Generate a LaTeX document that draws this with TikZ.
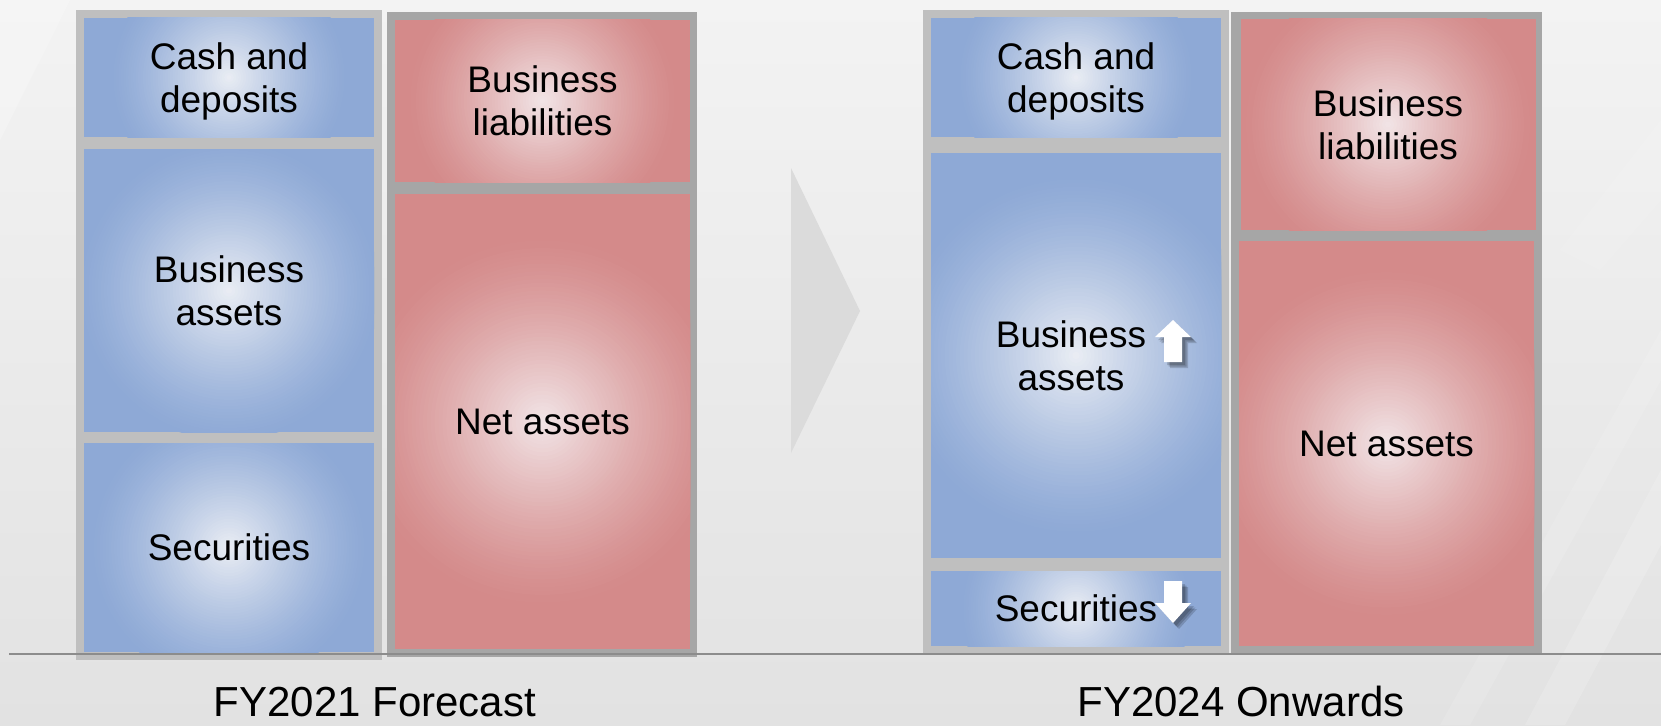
\documentclass[tikz,border=0pt]{standalone}
\usepackage{fontspec}
\setmainfont{Liberation Sans}
\definecolor{bgtop}{HTML}{F3F3F3}
\definecolor{bgbot}{HTML}{E2E2E2}
\definecolor{boxblue}{HTML}{8EA9D6}
\definecolor{blueglow}{HTML}{EBEEF4}
\definecolor{boxred}{HTML}{D48A8A}
\definecolor{redglow}{HTML}{F2E6E8}
\definecolor{frameblue}{HTML}{BFBFBF}
\definecolor{framered}{HTML}{A6A6A6}
\definecolor{chevgray}{HTML}{DBDBDB}
\definecolor{rulegray}{HTML}{8C8C8C}
\begin{document}
\begin{tikzpicture}[x=1pt,y=-1pt]
\tikzset{
  cell/.style={rectangle, inner sep=0pt, align=center, text=black, text depth=0pt,
    font=\fontsize{37}{43}\selectfont},
  % soft highlight in the middle of a cell: #1 = base colour, #2 = highlight colour, #3 = radius
  glow/.style n args={3}{fill=#1,
    path picture={
      \foreach \k in {0,...,47} {
        \pgfmathsetmacro\rr{#3*(1-\k/48)}
        \pgfmathsetmacro\pp{100*(\k/48)^1.3}
        \fill[#2!\pp!#1] (path picture bounding box.center) circle (\rr pt);
      }}},
  bluecell/.style={cell, glow={boxblue}{blueglow}{#1}},
  redcell/.style={cell, glow={boxred}{redglow}{#1}},
  framebox/.style={rectangle, inner sep=0pt, fill=#1},
  caption/.style={anchor=base, inner sep=0pt, font=\fontsize{42}{50}\selectfont},
  uparr/.pic={
    \foreach \d in {3,4.5,6}
      \fill[black, opacity=.16, shift={(\d,\d)}]
        (0,0) -- (18,17) -- (9,17) -- (9,42) -- (-9,42) -- (-9,17) -- (-18,17) -- cycle;
    \fill[white] (0,0) -- (18,17) -- (9,17) -- (9,42) -- (-9,42) -- (-9,17) -- (-18,17) -- cycle;
  },
  downarr/.pic={
    \foreach \d in {3,4.5,6}
      \fill[black, opacity=.16, shift={(\d,\d)}]
        (0,0) -- (18,-20) -- (9,-20) -- (9,-42) -- (-9,-42) -- (-9,-20) -- (-18,-20) -- cycle;
    \fill[white] (0,0) -- (18,-20) -- (9,-20) -- (9,-42) -- (-9,-42) -- (-9,-20) -- (-18,-20) -- cycle;
  }
}
% canvas
\useasboundingbox (0,0) rectangle (1661,725);
\fill[top color=bgtop, bottom color=bgbot] (0,0) rectangle (1661,725);
% soft diagonal light bands
\fill[white, opacity=.22] (0,0) -- (70,0) -- (0,140) -- cycle;
\fill[white, opacity=.16] (1525,725) -- (1661,470) -- (1661,545) -- (1565,725) -- cycle;
\fill[white, opacity=.12] (1440,725) -- (1661,330) -- (1661,380) -- (1470,725) -- cycle;
\fill[white, opacity=.10] (1560,250) -- (1661,120) -- (1661,200) -- (1600,270) -- cycle;

% ---- FY2021 balance sheet ----
\node[framebox=frameblue, minimum width=306pt, minimum height=650pt] (frameAL) at (229,335) {};
\node[bluecell=118, minimum width=290pt, minimum height=119pt] (cashL) at (229,77.5) {Cash and\\deposits};
\node[bluecell=150, minimum width=290pt, minimum height=283pt] (bizL) at (229,290.5) {Business\\assets};
\node[bluecell=138, minimum width=290pt, minimum height=209pt] (secL) at (229,547.5) {Securities};
\node[framebox=framered, minimum width=310pt, minimum height=645pt] (frameBL) at (542,334.5) {};
\node[redcell=135, minimum width=295pt, minimum height=162pt] (liabL) at (542.5,101) {Business\\liabilities};
\node[redcell=185, minimum width=295pt, minimum height=455pt] (netL) at (542.5,421.5) {Net assets};

% transition chevron
\fill[chevgray] (791,168) -- (860,311) -- (791,453) -- cycle;

% ---- FY2024 balance sheet ----
\node[framebox=frameblue, minimum width=306pt, minimum height=643pt] (frameAR) at (1076,331.5) {};
\node[bluecell=118, minimum width=290pt, minimum height=119pt] (cashR) at (1076,77.5) {Cash and\\deposits};
\node[bluecell=180, minimum width=290pt, minimum height=405pt] (bizR) at (1076,355.5) {Business\hspace*{10pt}\\assets\hspace*{10pt}};
\node[bluecell=115, minimum width=290pt, minimum height=75pt] (secR) at (1076,608.5) {Securities};
\node[framebox=framered, minimum width=311pt, minimum height=641pt] (frameBR) at (1386.5,332.5) {};
\node[redcell=145, minimum width=295pt, minimum height=211pt] (liabR) at (1388,124.5) {Business\\liabilities};
\node[redcell=175, minimum width=295pt, minimum height=405pt] (netR) at (1386.5,443.5) {Net assets};

% change markers
\pic at (1173,320) {uparr};
\pic at (1173,623) {downarr};

% ground rule
\draw[rulegray, line width=2pt] (9,654) -- (1661,654);

% captions
\node[caption] (capL) at (375,716) {FY2021 Forecast};
\node[caption] (capR) at (1241,716) {FY2024 Onwards};
\end{tikzpicture}
\end{document}
